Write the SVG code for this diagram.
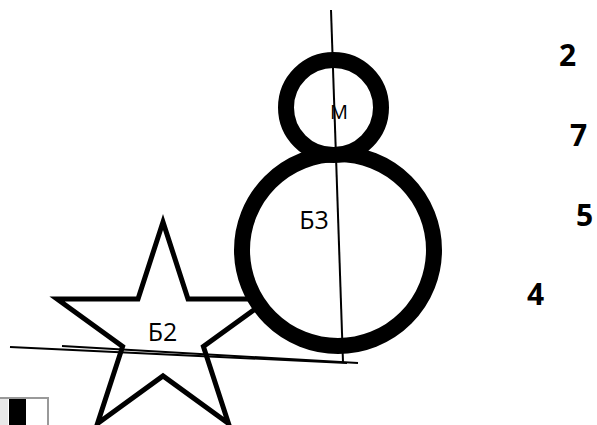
<svg xmlns="http://www.w3.org/2000/svg" width="597" height="425" viewBox="0 0 597 425">
<style>
.ring{fill:#fff;stroke:#000;stroke-width:16}
.lbl{font-family:"Open Sans","Liberation Sans",sans-serif;fill:#000;text-anchor:middle}
.num{font-family:"Open Sans","Liberation Sans",sans-serif;font-weight:bold;font-size:30px;fill:#000}
.ln{stroke:#000;stroke-width:2;fill:none}
</style>
<rect width="597" height="425" fill="#fff"/>
<g id="icon">
<rect x="0" y="398" width="48" height="30" fill="#fff" stroke="#999" stroke-width="2"/>
<rect x="0" y="399" width="8" height="26" fill="#e8e8e8"/>
<rect x="9" y="399" width="17" height="26" fill="#000"/>
</g>
<g id="star">
<polygon points="163,222 188,299 268.9,299 203.4,346.5 228.5,423.5 163,375.9 97.5,423.5 122.6,346.5 57.1,299 138,299" fill="#fff" stroke="#000" stroke-width="5" stroke-miterlimit="10"/>
<text class="lbl" x="162.5" y="340.5" font-size="25">Б2</text>
</g>
<g id="bigcircle">
<circle class="ring" cx="338" cy="250" r="96"/>
</g>
<g id="smallcircle">
<circle class="ring" cx="333.5" cy="107.5" r="47.5"/>
</g>
<g id="connectors">
<line class="ln" x1="331" y1="10" x2="343" y2="362"/>
<line class="ln" x1="10" y1="347" x2="347" y2="363"/>
<line class="ln" x1="62" y1="346" x2="358" y2="363"/>
</g>
<g id="labels">
<text class="lbl" x="339" y="118.5" font-size="20">М</text>
<text class="lbl" x="314" y="228.5" font-size="25">Б3</text>
</g>
<g id="numbers">
<text class="num" x="559" y="66">2</text>
<text class="num" x="570" y="146">7</text>
<text class="num" x="576" y="226">5</text>
<text class="num" x="527" y="305">4</text>
</g>
</svg>
